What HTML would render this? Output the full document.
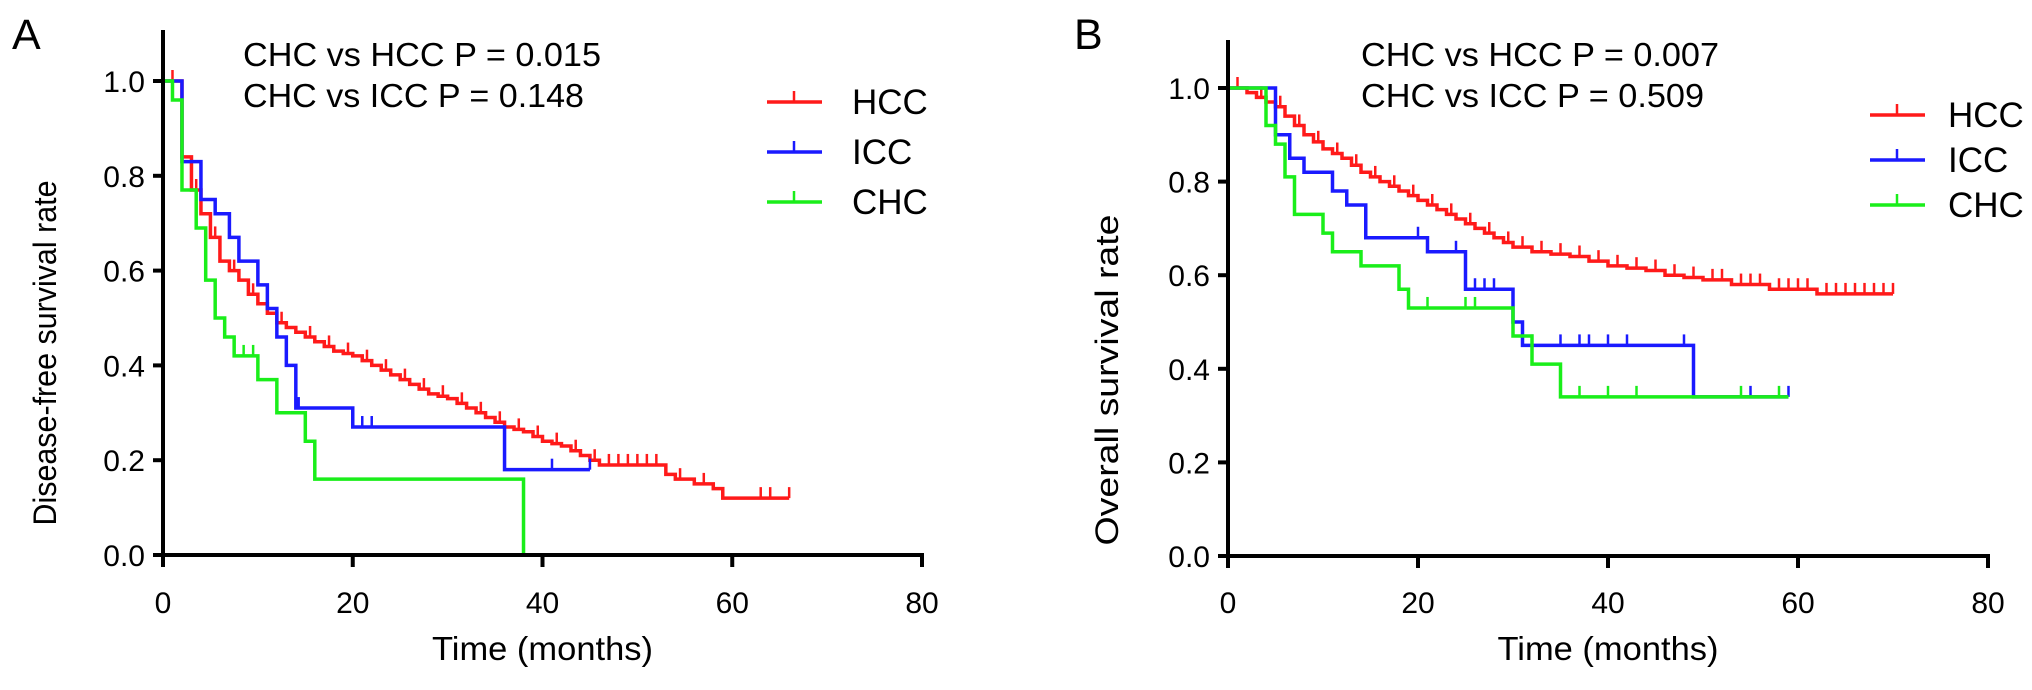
<!DOCTYPE html>
<html><head><meta charset="utf-8"><style>
body{margin:0;background:#fff}
svg{display:block}
text{font-family:"Liberation Sans",Arial,sans-serif;fill:#000}
</style></head><body>
<svg id="chart" width="2032" height="690" viewBox="0 0 2032 690">
<g id="pA"></g>
<g id="pB"></g>
</svg>
<script>
const xTicks=[0,20,40,60,80];
const yTicks=[0,0.2,0.4,0.6,0.8,1.0];
const yTickLabels=["0.0","0.2","0.4","0.6","0.8","1.0"];
// Panel A (disease-free)
const aHccT=[0,2,3,4,5,6,7,8,9,10,11,12,13,14,15,16,17,18,19,20,21,22,23,24,25,26,27,28,29,30,31,32,33,34,35,36,37,38,39,40,41,42,43,44,45,46,53,54,56,58,59];
const aHccS=[1.0,0.84,0.77,0.72,0.67,0.62,0.6,0.58,0.55,0.53,0.51,0.49,0.48,0.47,0.46,0.45,0.44,0.43,0.425,0.42,0.41,0.40,0.39,0.38,0.37,0.36,0.35,0.34,0.335,0.33,0.32,0.31,0.30,0.29,0.28,0.27,0.265,0.26,0.25,0.24,0.235,0.23,0.22,0.21,0.20,0.19,0.17,0.16,0.15,0.14,0.12];
const aHccEnd=66;
const aHccCens=[1,3.5,5.5,7.5,9.5,12.5,15.5,17.5,19.5,21.5,23.5,25.5,27.5,29.5,31.5,33.5,35.5,37.5,39.5,41.5,43.5,45.5,47,48,49,50,51,52,54.5,57,63,64,66];
const aIccT=[0,2,4,5.5,7,8,10,11,12,13,14,20,36];
const aIccS=[1.0,0.83,0.75,0.72,0.67,0.62,0.57,0.52,0.46,0.40,0.31,0.27,0.18];
const aIccEnd=45;
const aIccCens=[14.3,21,22,41,45];
const aChcT=[0,1,2,3.5,4.5,5.5,6.5,7.5,10,12,15,16,38];
const aChcS=[1.0,0.96,0.77,0.69,0.58,0.5,0.46,0.42,0.37,0.30,0.24,0.16,0.0];
const aChcEnd=38;
const aChcCens=[8.5,9.5];
// Panel B (overall)
const bHccT=[0,2,3,4,5,6,7,8,9,10,11,12,13,14,15,16,17,18,19,20,21,22,23,24,25,26,27,28,29,30,32,34,36,38,40,42,44,46,48,50,53,57,62];
const bHccS=[1.0,0.99,0.98,0.97,0.96,0.94,0.92,0.90,0.885,0.87,0.86,0.85,0.835,0.82,0.81,0.80,0.79,0.78,0.77,0.76,0.75,0.74,0.73,0.72,0.71,0.70,0.69,0.68,0.67,0.66,0.65,0.645,0.64,0.63,0.62,0.615,0.61,0.60,0.595,0.59,0.58,0.57,0.56];
const bHccEnd=70;
const bHccCens=[1,3.5,5.5,7.5,9.5,11.5,13.5,15.5,17.5,19.5,21.5,23.5,25.5,27.5,29.5,31,33,35,37,39,41,43,45,47,49,51,52,54,55,56,58,59,60,61,63,64,65,66,67,68,69,70];
const bIccT=[0,5,6.5,8,11,12.5,14.5,21,25,30,31,49];
const bIccS=[1.0,0.9,0.85,0.82,0.78,0.75,0.68,0.65,0.57,0.5,0.45,0.34];
const bIccEnd=59;
const bIccCens=[20,24,26,27,28,32,35,37,38,40,42,48,55,59];
const bChcT=[0,4,5,6,7,10,11,14,18,19,30,32,35];
const bChcS=[1.0,0.92,0.88,0.81,0.73,0.69,0.65,0.62,0.57,0.53,0.47,0.41,0.34];
const bChcEnd=59;
const bChcCens=[21,25,26,37,40,43,54,58];

const NS="http://www.w3.org/2000/svg";
function mk(parent,tag,attrs,txt){const e=document.createElementNS(NS,tag);for(const k in attrs)e.setAttribute(k,attrs[k]);if(txt!==undefined)e.textContent=txt;parent.appendChild(e);return e;}

function drawPanel(g,cfg){
  const X=v=>cfg.x0+(cfg.x1-cfg.x0)*v/80;
  const Y=v=>cfg.y0+(cfg.y1-cfg.y0)*v;
  cfg.series.forEach(s=>{
    let d="M"+X(s.t[0])+","+Y(s.s[0]);
    for(let i=1;i<s.t.length;i++){d+=" H"+X(s.t[i])+" V"+Y(s.s[i]);}
    d+=" H"+X(s.end);
    const p=mk(g,"path",{d:d,fill:"none",stroke:s.color,"stroke-width":3.5});
    
    
    s.cens.forEach(c=>{
      let idx=0;for(let i=0;i<s.t.length;i++){if(s.t[i]<=c)idx=i;}
      const l=mk(g,"line",{x1:X(c),x2:X(c),y1:Y(s.s[idx]),y2:Y(s.s[idx])-11,stroke:s.color,"stroke-width":2.5});
      
      
    });
  });
  const ya=mk(g,"line",{x1:cfg.x0,x2:cfg.x0,y1:cfg.top,y2:cfg.y0+2,stroke:"#000","stroke-width":4});
  
  
  const xa=mk(g,"line",{x1:cfg.x0-2,x2:cfg.x1+2,y1:cfg.y0,y2:cfg.y0,stroke:"#000","stroke-width":4});
  
  
  yTicks.forEach((v,i)=>{
    mk(g,"line",{x1:cfg.x0-10,x2:cfg.x0,y1:Y(v),y2:Y(v),stroke:"#000","stroke-width":4});
    const t=mk(g,"text",{x:cfg.x0-18,y:Y(v)+11,"text-anchor":"end","font-size":30},yTickLabels[i]);
    
    
  });
  xTicks.forEach(v=>{
    mk(g,"line",{x1:X(v),x2:X(v),y1:cfg.y0,y2:cfg.y0+12,stroke:"#000","stroke-width":4});
    const t=mk(g,"text",{x:X(v),y:613,"text-anchor":"middle","font-size":30},String(v));
    
    
  });
  const xt=mk(g,"text",{x:(cfg.x0+cfg.x1)/2,y:660,"text-anchor":"middle","font-size":33,textLength:221,lengthAdjust:"spacingAndGlyphs"},"Time (months)");
  
  
  const yt=mk(g,"text",{x:0,y:0,"text-anchor":"middle","font-size":32,textLength:cfg.ytlen,lengthAdjust:"spacingAndGlyphs",transform:"translate("+cfg.ytx+","+cfg.ytcy+") rotate(-90)"},cfg.ytitle);
  
  
  const lt=mk(g,"text",{x:cfg.letterX,y:49,"font-size":43},cfg.letter);
  
  
  cfg.pvals.forEach((p,i)=>{
    const t=mk(g,"text",{x:cfg.px,y:cfg.py+i*41,"font-size":33,textLength:cfg.plen[i],lengthAdjust:"spacingAndGlyphs"},p);
    
    
  });
  cfg.series.forEach((s,i)=>{
    const ly=cfg.ly+i*cfg.lgap;
    const lg=mk(g,"g",{});
    
    
    mk(lg,"line",{x1:cfg.lx,x2:cfg.lx+55,y1:ly,y2:ly,stroke:s.color,"stroke-width":3.5});
    mk(lg,"line",{x1:cfg.lx+27,x2:cfg.lx+27,y1:ly,y2:ly-11,stroke:s.color,"stroke-width":2.5});
    mk(lg,"text",{x:cfg.lx+cfg.ltx,y:ly+12,"font-size":35},s.label);
  });
}
drawPanel(document.getElementById("pA"),{x0:163,x1:922,y0:555,y1:81,top:30,ytx:56,ytcy:353,ytlen:345,ytitle:"Disease-free survival rate",letter:"A",letterX:12,
  px:243,py:66,plen:[358,341],pvals:["CHC vs HCC P = 0.015","CHC vs ICC P = 0.148"],lx:767,ltx:85,ly:102,lgap:50,
  series:[{name:"hcc",label:"HCC",color:"#ff1a1a",t:aHccT,s:aHccS,end:aHccEnd,cens:aHccCens},
          {name:"icc",label:"ICC",color:"#1a1aff",t:aIccT,s:aIccS,end:aIccEnd,cens:aIccCens},
          {name:"chc",label:"CHC",color:"#1aee1a",t:aChcT,s:aChcS,end:aChcEnd,cens:aChcCens}]});
drawPanel(document.getElementById("pB"),{x0:1228,x1:1988,y0:556,y1:88,top:40,ytx:1118,ytcy:380,ytlen:331,ytitle:"Overall survival rate",letter:"B",letterX:1074,
  px:1361,py:66,plen:[358,343],pvals:["CHC vs HCC P = 0.007","CHC vs ICC P = 0.509"],lx:1870,ltx:78,ly:115,lgap:45,
  series:[{name:"hcc",label:"HCC",color:"#ff1a1a",t:bHccT,s:bHccS,end:bHccEnd,cens:bHccCens},
          {name:"icc",label:"ICC",color:"#1a1aff",t:bIccT,s:bIccS,end:bIccEnd,cens:bIccCens},
          {name:"chc",label:"CHC",color:"#1aee1a",t:bChcT,s:bChcS,end:bChcEnd,cens:bChcCens}]});
</script>
</body></html>
